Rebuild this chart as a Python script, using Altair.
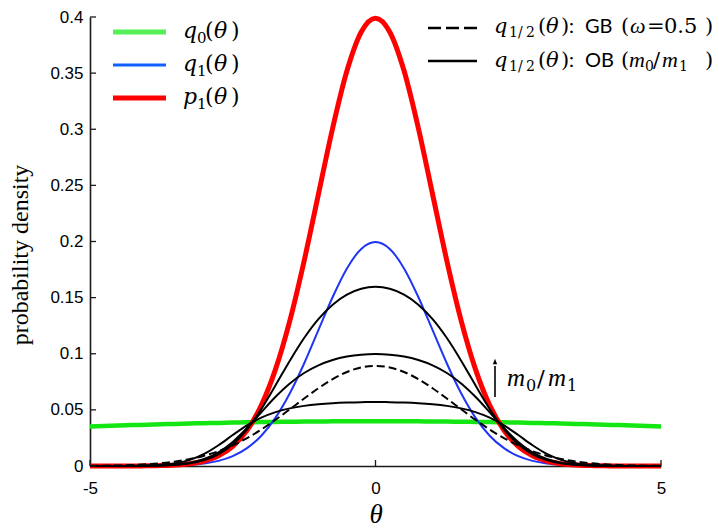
import altair as alt
import pandas as pd

# ---------------- data ----------------
theta = [-5.0, -4.75, -4.5, -4.25, -4.0, -3.75, -3.5, -3.25, -3.0, -2.75, -2.5, -2.25, -2.0,
         -1.75, -1.5, -1.25, -1.0, -0.75, -0.5, -0.25, 0.0, 0.25, 0.5, 0.75, 1.0, 1.25, 1.5,
         1.75, 2.0, 2.25, 2.5, 2.75, 3.0, 3.25, 3.5, 3.75, 4.0, 4.25, 4.5, 4.75, 5.0]

q0 = [0.03521, 0.03564, 0.03605, 0.03645, 0.03683, 0.03719, 0.03752, 0.03784, 0.03814, 0.03841,
      0.03867, 0.03890, 0.03910, 0.03929, 0.03945, 0.03958, 0.03970, 0.03978, 0.03984, 0.03988,
      0.03989, 0.03988, 0.03984, 0.03978, 0.03970, 0.03958, 0.03945, 0.03929, 0.03910, 0.03890,
      0.03867, 0.03841, 0.03814, 0.03784, 0.03752, 0.03719, 0.03683, 0.03645, 0.03605, 0.03564, 0.03521]

q1 = [0.0, 0.0, 0.00001, 0.00002, 0.00007, 0.00018, 0.00044, 0.00101, 0.00222, 0.00455,
      0.00876, 0.01587, 0.02700, 0.04314, 0.06476, 0.09132, 0.12099, 0.15057, 0.17603, 0.19333,
      0.19947, 0.19333, 0.17603, 0.15057, 0.12099, 0.09132, 0.06476, 0.04314, 0.02700, 0.01587,
      0.00876, 0.00455, 0.00222, 0.00101, 0.00044, 0.00018, 0.00007, 0.00002, 0.00001, 0.0, 0.0]

p1 = [0.0, 0.00001, 0.00002, 0.00005, 0.00013, 0.00035, 0.00087, 0.00203, 0.00443, 0.00909,
      0.01753, 0.03174, 0.05399, 0.08628, 0.12952, 0.18265, 0.24197, 0.30114, 0.35207, 0.38667,
      0.39894, 0.38667, 0.35207, 0.30114, 0.24197, 0.18265, 0.12952, 0.08628, 0.05399, 0.03174,
      0.01753, 0.00909, 0.00443, 0.00203, 0.00087, 0.00035, 0.00013, 0.00005, 0.00002, 0.00001, 0.0]

gb = [0.00016, 0.00030, 0.00054, 0.00093, 0.00157, 0.00256, 0.00405, 0.00620, 0.00919, 0.01321,
      0.01841, 0.02484, 0.03249, 0.04117, 0.05054, 0.06012, 0.06930, 0.07739, 0.08374, 0.08780,
      0.08920, 0.08780, 0.08374, 0.07739, 0.06930, 0.06012, 0.05054, 0.04117, 0.03249, 0.02484,
      0.01841, 0.01321, 0.00919, 0.00620, 0.00405, 0.00256, 0.00157, 0.00093, 0.00054, 0.00030, 0.00016]

ob_hi = [0.0, 0.00001, 0.00002, 0.00006, 0.00016, 0.00042, 0.00104, 0.00241, 0.00520, 0.01042,
         0.01929, 0.03274, 0.05077, 0.07194, 0.09382, 0.11399, 0.13085, 0.14374, 0.15267, 0.15787,
         0.15958, 0.15787, 0.15267, 0.14374, 0.13085, 0.11399, 0.09382, 0.07194, 0.05077, 0.03274,
         0.01929, 0.01042, 0.00520, 0.00241, 0.00104, 0.00042, 0.00016, 0.00006, 0.00002, 0.00001, 0.0]

ob_mid = [0.0, 0.00001, 0.00002, 0.00007, 0.00020, 0.00053, 0.00129, 0.00296, 0.00628, 0.01220,
          0.02143, 0.03381, 0.04791, 0.06168, 0.07354, 0.08284, 0.08967, 0.09440, 0.09747, 0.09918,
          0.09974, 0.09918, 0.09747, 0.09440, 0.08967, 0.08284, 0.07354, 0.06168, 0.04791, 0.03381,
          0.02143, 0.01220, 0.00628, 0.00296, 0.00129, 0.00053, 0.00020, 0.00007, 0.00002, 0.00001, 0.0]

ob_lo = [0.0, 0.00002, 0.00005, 0.00014, 0.00040, 0.00104, 0.00250, 0.00550, 0.01079, 0.01852,
         0.02758, 0.03618, 0.04306, 0.04800, 0.05135, 0.05357, 0.05503, 0.05598, 0.05656, 0.05689,
         0.05699, 0.05689, 0.05656, 0.05598, 0.05503, 0.05357, 0.05135, 0.04800, 0.04306, 0.03618,
         0.02758, 0.01852, 0.01079, 0.00550, 0.00250, 0.00104, 0.00040, 0.00014, 0.00005, 0.00002, 0.0]

y_ticks = [0, 0.05, 0.1, 0.15, 0.2, 0.25, 0.3, 0.35, 0.4]
x_ticks = [-5, 0, 5]

# ---------------- layout ----------------
W, H = 571, 449
L, T = 90, 17
AXC = "#1a1a1a"
SERIF = "Liberation Serif"
MATH = "DejaVu Serif"
SANS = "Liberation Sans"

df = pd.DataFrame({"theta": theta, "q0": q0, "q1": q1, "p1": p1, "gb": gb,
                   "ob_hi": ob_hi, "ob_mid": ob_mid, "ob_lo": ob_lo})
one = pd.DataFrame({"k": [0]})

xs = alt.Scale(domain=[-5, 5], nice=False, zero=False)
ys = alt.Scale(domain=[0, 0.4], nice=False)

x_axis = alt.Axis(values=x_ticks, labelExpr="'' + datum.value", ticks=False, grid=False,
                  labelFont=SANS, labelFontSize=17, labelColor="black", labelPadding=14,
                  domainColor=AXC, domainWidth=1.6, title=None, labelFlush=False)
y_axis = alt.Axis(values=y_ticks, format="~g", ticks=False, grid=False,
                  labelFont=SANS, labelFontSize=17, labelColor="black", labelPadding=7,
                  domainColor=AXC, domainWidth=1.6, title=None)


def curve(field, color, width, dash=None):
    kw = dict(color=color, strokeWidth=width, interpolate="monotone")
    if dash:
        kw["strokeDash"] = dash
    return alt.Chart(df).mark_line(**kw).encode(
        x=alt.X("theta:Q", scale=xs, axis=x_axis),
        y=alt.Y(f"{field}:Q", scale=ys, axis=y_axis))


def txt(s, x, y, size, font=MATH, style="normal", align="left", baseline="alphabetic", angle=0):
    kw = dict(text=s, font=font, fontSize=size, fontStyle=style, align=align,
              baseline=baseline, color="black")
    if angle:
        kw["angle"] = angle
    return alt.Chart(one).mark_text(**kw).encode(x=alt.value(x - L), y=alt.value(y - T))


def hline(x1, x2, y, color, width, dash=None):
    kw = dict(color=color, strokeWidth=width)
    if dash:
        kw["strokeDash"] = dash
    return alt.Chart(one).mark_rule(**kw).encode(
        x=alt.value(x1 - L), x2=alt.value(x2 - L), y=alt.value(y - T))


layers = [
    curve("q0", "#14e614", 4.5),
    curve("q1", "#1f35f5", 2),
    curve("p1", "#ff0000", 5),
    curve("gb", "black", 2, dash=[8, 4]),
    curve("ob_hi", "black", 2),
    curve("ob_mid", "black", 2),
    curve("ob_lo", "black", 2),
]

# inward tick marks
layers.append(alt.Chart(pd.DataFrame({"v": y_ticks})).mark_rule(color=AXC, strokeWidth=1.3).encode(
    y=alt.Y("v:Q", scale=ys, axis=y_axis), x=alt.value(0), x2=alt.value(6)))
layers.append(alt.Chart(pd.DataFrame({"v": x_ticks})).mark_rule(color=AXC, strokeWidth=1.3).encode(
    x=alt.X("v:Q", scale=xs, axis=x_axis), y=alt.value(H), y2=alt.value(H - 6)))

# axis titles
layers.append(txt("probability density", 21, 255, 24, font=SERIF, angle=270,
                  align="center", baseline="middle"))
layers.append(txt("θ", 376, 515, 27, font=SERIF, style="italic", align="center", baseline="middle"))

# left legend
for (yl, letter, sub, color, w) in [(32, "q", "0", "#55f055", 5),
                                    (65, "q", "1", "#1060ff", 3),
                                    (98, "p", "1", "#ff0000", 5)]:
    b = yl + 6
    layers.append(hline(113, 166, yl, color, w))
    layers += [txt(letter, 183, b, 22, style="italic"),
               txt(sub, 197, b + 5, 15),
               txt("(", 205, b, 22),
               txt("θ", 214, b, 22, style="italic"),
               txt(")", 231, b, 22)]

# right legend
layers.append(hline(428, 477, 28, "black", 2.5, dash=[13, 5]))
layers.append(hline(428, 477, 61, "black", 2.5))
for b in (33, 67):
    layers += [txt("q", 494, b, 21, style="italic"),
               txt("1", 509, b + 4, 14),
               txt("/", 518, b + 4, 14),
               txt("2", 526, b + 4, 14),
               txt("(", 538, b, 21),
               txt("θ", 546, b, 21, style="italic"),
               txt(")", 561, b, 21),
               txt(":", 569, b, 20, font="Lato"),
               txt("(", 621, b, 21),
               txt(")", 705, b, 21)]
layers += [txt("GB", 585, 33, 20, font="Lato"),
           txt("ω", 630, 33, 22, font=SERIF, style="italic"),
           txt("=", 647, 33, 21),
           txt("0.5", 664, 33, 21),
           txt("OB", 585, 67, 20, font="Lato"),
           txt("m", 629, 67, 22, font=SERIF, style="italic"),
           txt("0", 645, 71, 14),
           txt("/", 653, 67, 21),
           txt("m", 662, 67, 22, font=SERIF, style="italic"),
           txt("1", 679, 71, 14)]

# arrow m0/m1
layers.append(alt.Chart(one).mark_rule(color="black", strokeWidth=1.6).encode(
    x=alt.value(495 - L), y=alt.value(366 - T), y2=alt.value(397 - T)))
layers.append(alt.Chart(one).mark_point(
    shape="M-0.4,0.5L0,-0.5L0.4,0.5Z", size=120, filled=True, color="black", opacity=1).encode(
    x=alt.value(495 - L), y=alt.value(361.5 - T)))
layers += [txt("m", 507, 386, 25, font=SERIF, style="italic"),
           txt("0", 526, 391, 16),
           txt("/", 537, 386, 23),
           txt("m", 548, 386, 25, font=SERIF, style="italic"),
           txt("1", 567, 391, 16)]

chart = alt.layer(*layers).properties(
    width=W, height=H,
    padding={"left": L, "top": T, "right": 719 - L - W, "bottom": 530 - T - H},
    autosize=alt.AutoSizeParams(type="none"),
).configure_view(stroke=None)

chart.save("out.html", embed_options={"renderer": "svg", "actions": False})
